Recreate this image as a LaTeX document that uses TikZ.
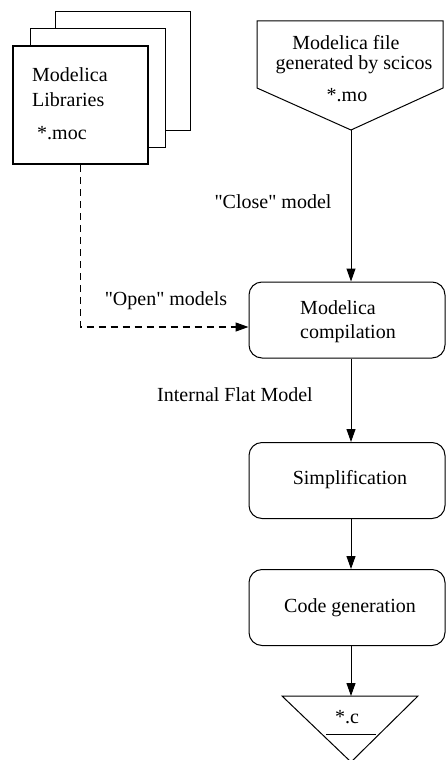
\documentclass[tikz,border=0pt]{standalone}
\usepackage{fontspec}
\setmainfont{Liberation Serif}[Ligatures=TeXOff]
\usetikzlibrary{arrows.meta}
\tikzset{
  thinline/.style={line width=1pt},
  page/.style={draw, line width=1pt, fill=white},
  frontpage/.style={draw, line width=2pt, fill=white, minimum width=135pt, minimum height=118pt, inner sep=0pt},
  procbox/.style={draw, line width=1pt, rounded corners=13pt, minimum width=196pt, minimum height=76pt, inner sep=0pt},
  lbl/.style={inner sep=0pt, font=\fontsize{20}{24}\selectfont},
  flow/.style={line width=1pt, -{Triangle[length=13pt,width=9pt]}},
  dflow/.style={line width=1.3pt, dash pattern=on 7pt off 5pt, -{Triangle[length=13pt,width=9pt]}}
}
\begin{document}
\begin{tikzpicture}[x=1pt,y=-1pt]
\useasboundingbox (0,0) rectangle (447,760);
% library stack
\draw[page] (55,12) rectangle (190,130);
\draw[page] (30,29) rectangle (165,147);
\node[frontpage] (lib) at (80.5,105) {};
\node[lbl, anchor=west] (libt1) at (32,75) {Modelica};
\node[lbl, anchor=west] (libt2) at (32,100) {Libraries};
\node[lbl, anchor=west] (libt3) at (37,133) {*.moc};
% modelica file pentagon
\draw[thinline] (257,21) -- (443,21) -- (443,88) -- (351,130) -- (257,88) -- cycle;
\coordinate (mo) at (351,130);
\node[lbl] (mot1) at (346,43) {Modelica file};
\node[lbl] (mot2) at (354,65) {generated by scicos};
\node[lbl] (mot3) at (347,95) {*.mo};
% process boxes
\node[procbox] (comp) at (347,320) {};
\node[lbl, align=left] (compt) at (348,322) {Modelica\\compilation};
\node[procbox] (simp) at (347,480.5) {};
\node[lbl] (simpt) at (350,480) {Simplification};
\node[procbox] (gen) at (347,607.5) {};
\node[lbl] (gent) at (350,608) {Code generation};
% output triangle
\draw[thinline] (282,696) -- (418,696) -- (351,762) -- cycle;
\coordinate (cout) at (351,696);
\node[lbl] (ct) at (347,717) {*.c};
\draw[thinline] (326,734) -- (376,734);
% connectors
\draw[flow] (mo) -- (mo |- comp.north);
\draw[dflow] (lib.south) |- (comp.west |- 0,327);
\draw[flow] (comp.south -| 351,0) -- (simp.north -| 351,0);
\draw[flow] (simp.south -| 351,0) -- (gen.north -| 351,0);
\draw[flow] (gen.south -| 351,0) -- (cout);
% labels
\node[lbl] (closel) at (273,202) {"Close" model};
\node[lbl] (openl) at (166,301) {"Open" models};
\node[lbl] (flatl) at (235,395) {Internal Flat Model};
\end{tikzpicture}
\end{document}
